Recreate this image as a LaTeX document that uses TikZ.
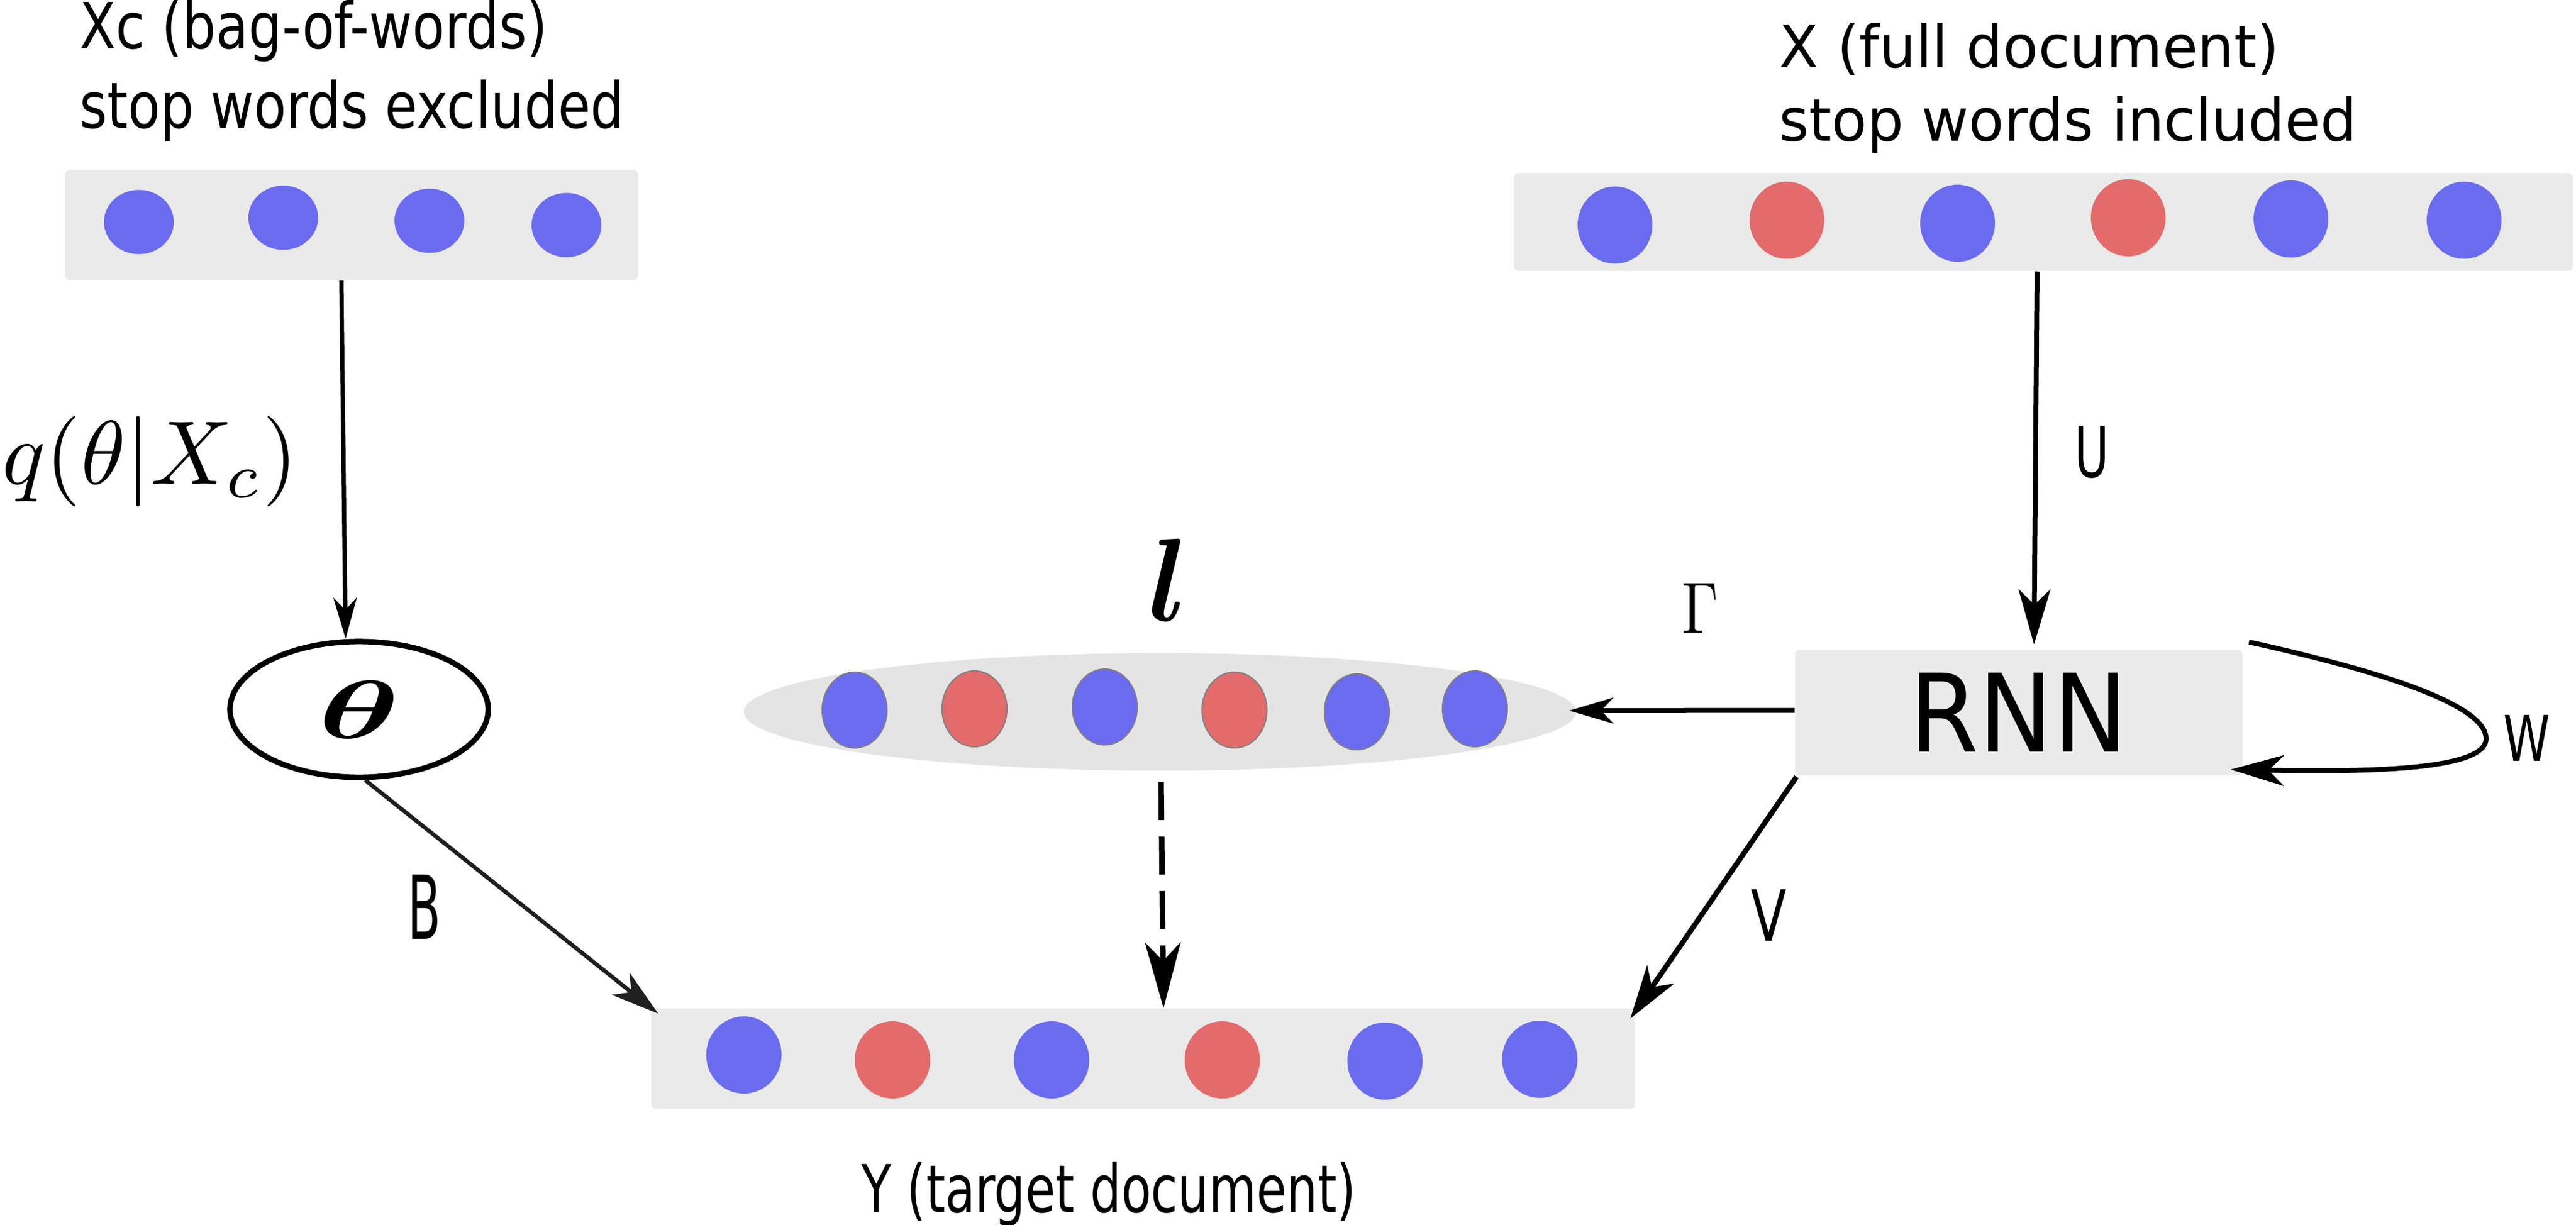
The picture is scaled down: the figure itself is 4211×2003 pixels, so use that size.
\documentclass[tikz,border=0pt]{standalone}
\usepackage{amsmath,bm}
\usepackage{graphicx}
\usepackage{fontspec}
\newfontfamily\dv{DejaVu Sans}
\usetikzlibrary{arrows.meta,shapes.geometric}
\definecolor{boxg}{HTML}{EAEAEA}
\definecolor{latg}{HTML}{E4E4E4}
\definecolor{dblue}{HTML}{6B6BF0}
\definecolor{dred}{HTML}{E36B6B}
\newcommand\ftxt[3]{{\dv\fontsize{#1}{#1}\selectfont\scalebox{#2}[1]{#3}}}
% math set at 10pt and scaled: #1 = x factor, #2 = y factor
\newcommand\mtxt[3]{{\fontsize{10pt}{12pt}\selectfont\scalebox{#1}[#2]{#3}}}
\tikzset{
  box/.style={rectangle, fill=boxg, rounded corners=0.08cm, inner sep=0},
  bd/.style={ellipse, inner sep=0, fill=dblue},
  rd/.style={ellipse, inner sep=0, fill=dred},
  xcd/.style={minimum width=1.14cm, minimum height=1.05cm},
  xd/.style={minimum width=1.22cm, minimum height=1.26cm},
  ld/.style={minimum width=1.06cm, minimum height=1.24cm, draw=black!50, line width=0.02cm},
  yd/.style={minimum width=1.23cm, minimum height=1.26cm},
  lbl/.style={inner sep=0, anchor=base west},
  cl/.style={inner sep=0, anchor=center},
  conn/.style={line width=0.08cm},
}
\begin{document}
\begin{tikzpicture}[x=0.01cm, y=-0.01cm]
\useasboundingbox (0,0) rectangle (4211,2003);

% texts
\node[lbl] (xct1) at (130,80) {\ftxt{29.6pt}{0.83}{Xc (bag-of-words)}};
\node[lbl] (xct2) at (130,210) {\ftxt{29.6pt}{0.83}{stop words excluded}};
\node[lbl] (xt1) at (2908,111) {\ftxt{27.3pt}{0.98}{X (full document)}};
\node[lbl] (xt2) at (2908,231) {\ftxt{27.3pt}{0.98}{stop words included}};
\node[lbl] (yt) at (1408,1982) {\ftxt{30.7pt}{0.74}{Y (target document)}};

% boxes
\node[box, minimum width=9.36cm, minimum height=1.80cm] (xcbox) at (575,368) {};
\node[box, minimum width=17.30cm, minimum height=1.60cm] (xbox) at (3340,363) {};
\node[box, minimum width=16.08cm, minimum height=1.64cm] (ybox) at (1869,1731) {};
\node[box, minimum width=7.31cm, minimum height=2.05cm] (rnn) at (3300,1165) {\ftxt{50.4pt}{0.92}{RNN}};
\node[ellipse, fill=latg, inner sep=0, minimum width=13.6cm, minimum height=1.92cm] (latent) at (1896,1164) {};
\node[ellipse, draw, line width=0.09cm, fill=white, inner sep=0, minimum width=4.22cm, minimum height=2.22cm] (theta) at (587,1160) {\mtxt{6.4}{3.85}{$\bm{\theta}$}};

% dots
\node[bd, xcd] (xc1) at (227,363) {};
\node[bd, xcd] (xc2) at (463,356) {};
\node[bd, xcd] (xc3) at (702,361) {};
\node[bd, xcd] (xc4) at (926,368) {};

\node[bd, xd] (x1) at (2640,368) {};
\node[rd, xd] (x2) at (2921,360) {};
\node[bd, xd] (x3) at (3200,365) {};
\node[rd, xd] (x4) at (3479,356) {};
\node[bd, xd] (x5) at (3745,358) {};
\node[bd, xd] (x6) at (4028,360) {};

\node[bd, ld] (l1) at (1397,1161) {};
\node[rd, ld] (l2) at (1593,1159) {};
\node[bd, ld] (l3) at (1806,1156) {};
\node[rd, ld] (l4) at (2018,1161) {};
\node[bd, ld] (l5) at (2218,1164) {};
\node[bd, ld] (l6) at (2411,1159) {};

\node[bd, yd] (y1) at (1216,1725) {};
\node[rd, yd] (y2) at (1459,1733) {};
\node[bd, yd] (y3) at (1719,1733) {};
\node[rd, yd] (y4) at (1998,1733) {};
\node[bd, yd] (y5) at (2264,1735) {};
\node[bd, yd] (y6) at (2517,1732) {};

% labels
\node[lbl] (qlab) at (3,791) {\mtxt{4.2}{4.2}{$q(\theta|X_c)$}};
\node[cl] (ulab) at (3420,739) {\ftxt{32.7pt}{0.67}{U}};
\node[cl] (wlab) at (4131,1207) {\ftxt{29.3pt}{0.75}{W}};
\node[cl] (blab) at (694,1483) {\ftxt{41pt}{0.55}{B}};
\node[cl] (vlab) at (2892,1497) {\ftxt{32.7pt}{0.74}{V}};
\node[cl] (glab) at (2779,995) {\mtxt{2.72}{3.4}{$\Gamma$}};
\node[inner sep=0, anchor=base] (llab) at (1910,1015) {\mtxt{5.2}{5.5}{$\bm{l}$}};

% connectors
\draw[line width=0.07cm, -{Stealth[length=0.67cm, width=0.38cm, inset=0.2cm]}]
  ([xshift=-0.17cm]xcbox.south) -- ([xshift=-0.22cm]theta.north);
\draw[line width=0.08cm, -{Stealth[length=0.9cm, width=0.52cm, inset=0.25cm]}]
  ([xshift=-0.1cm]xbox.south) -- ([xshift=0.25cm,yshift=0.08cm]rnn.north);
\draw[conn, -{Stealth[length=0.72cm, width=0.42cm, inset=0.2cm]}]
  ([yshift=0.035cm]rnn.west) -- ([xshift=-0.12cm,yshift=0.02cm]latent.east);
\draw[line width=0.085cm, -{Stealth[length=0.87cm, width=0.53cm, inset=0.25cm]}]
  ([xshift=0.03cm,yshift=-0.02cm]rnn.south west) -- ([xshift=-0.09cm,yshift=-0.17cm]ybox.north east);
\draw[line width=0.065cm, black!88, -{Stealth[length=0.78cm, width=0.46cm, inset=0.22cm]}]
  ([xshift=0.1cm]theta.south) -- ([xshift=0.12cm,yshift=-0.09cm]ybox.north west);
\draw[line width=0.09cm, dash pattern=on 0.62cm off 0.27cm, -{Stealth[length=1.07cm, width=0.58cm, inset=0.3cm]}]
  ([xshift=0.02cm,yshift=-0.18cm]latent.south) -- ([xshift=0.33cm]ybox.north);
\coordinate (wturn) at (4064,1208);
\draw[line width=0.08cm, -{Stealth[length=0.87cm, width=0.5cm, inset=0.25cm]}]
  ([xshift=0.1cm,yshift=0.12cm]rnn.north east) .. controls (3880,1095) and (4064,1150) .. (wturn)
  .. controls (4064,1262) and (3850,1262) .. ([xshift=-0.2cm,yshift=0.1cm]rnn.south east);
\end{tikzpicture}
\end{document}
